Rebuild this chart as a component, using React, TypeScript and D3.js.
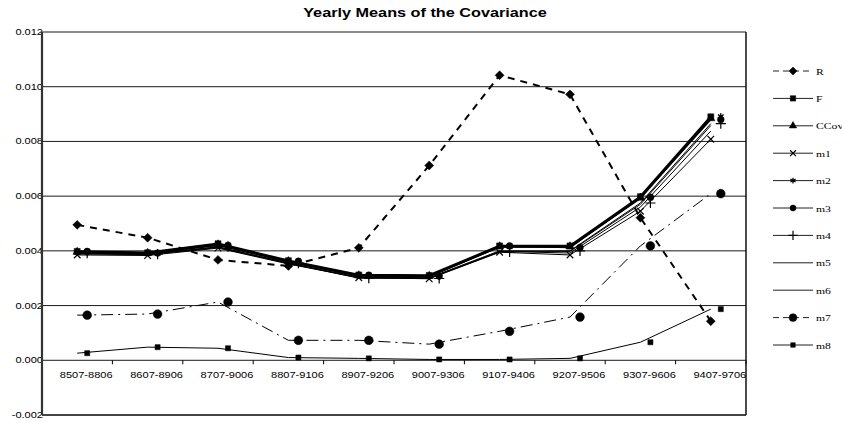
import React from "react";
import * as d3 from "d3";

const categories = ["8507-8806", "8607-8906", "8707-9006", "8807-9106", "8907-9206", "9007-9306", "9107-9406", "9207-9506", "9307-9606", "9407-9706"];
const yTicks = [0.012, 0.01, 0.008, 0.006, 0.004, 0.002, 0.0, -0.002];
const yTickLabels = ["0.012", "0.010", "0.008", "0.006", "0.004", "0.002", "0.000", "-0.002"];

const R = [0.00495, 0.00448, 0.00367, 0.00345, 0.00411, 0.00712, 0.01042, 0.00972, 0.00521, 0.00143];
const F = [0.00398, 0.00393, 0.00426, 0.00364, 0.00312, 0.0031, 0.00418, 0.00418, 0.00598, 0.0089];
const CCov = [0.00396, 0.00392, 0.00423, 0.00362, 0.0031, 0.00308, 0.00416, 0.00416, 0.00594, 0.00884];
const m1 = [0.00385, 0.00383, 0.0041, 0.00352, 0.00302, 0.00298, 0.00395, 0.00385, 0.00545, 0.00808];
const m2 = [0.00395, 0.0039, 0.00422, 0.0036, 0.00308, 0.00306, 0.00414, 0.00414, 0.00592, 0.00892];
const m3 = [0.00398, 0.00392, 0.0042, 0.00362, 0.00311, 0.00308, 0.00418, 0.00412, 0.00596, 0.0088];
const m4 = [0.00392, 0.00388, 0.00415, 0.00355, 0.003, 0.00299, 0.00396, 0.004, 0.00575, 0.00865];
const m5 = [0.0039, 0.00387, 0.00414, 0.00356, 0.00304, 0.00302, 0.004, 0.00398, 0.0057, 0.00858];
const m6 = [0.00389, 0.00386, 0.00412, 0.00354, 0.00303, 0.003, 0.00398, 0.00392, 0.0056, 0.00838];
const m7 = [0.00165, 0.00169, 0.00213, 0.00073, 0.00073, 0.00059, 0.00106, 0.00158, 0.00418, 0.00609];
const m8 = [0.00026, 0.00048, 0.00044, 0.0001, 0.00007, 0.00003, 0.00003, 0.00007, 0.00066, 0.00187];

const seriesNames = ["R", "F", "CCov", "m1", "m2", "m3", "m4", "m5", "m6", "m7", "m8"];
const seriesValues = [R, F, CCov, m1, m2, m3, m4, m5, m6, m7, m8];

const squareDiamond = {
  draw(ctx: any, size: number) {
    const r = Math.sqrt(size / 2);
    ctx.moveTo(0, -r);
    ctx.lineTo(r, 0);
    ctx.lineTo(0, r);
    ctx.lineTo(-r, 0);
    ctx.closePath();
  },
};

type Style = { sw: number; dash?: string; symbol?: any; size: number; fill: boolean; offset: number };
const styles: Record<string, Style> = {
  R: { sw: 2, dash: "7,6", symbol: squareDiamond, size: 40, fill: true, offset: 0 },
  F: { sw: 2.5, symbol: d3.symbolSquare, size: 36, fill: true, offset: 0 },
  CCov: { sw: 2, symbol: d3.symbolTriangle, size: 30, fill: true, offset: 0 },
  m1: { sw: 1, symbol: d3.symbolTimes, size: 30, fill: false, offset: 0 },
  m2: { sw: 1.5, symbol: d3.symbolAsterisk, size: 30, fill: false, offset: 10 },
  m3: { sw: 1.5, symbol: d3.symbolCircle, size: 36, fill: true, offset: 10 },
  m4: { sw: 1, symbol: d3.symbolPlus, size: 36, fill: false, offset: 10 },
  m5: { sw: 1, size: 0, fill: false, offset: 0 },
  m6: { sw: 1, size: 0, fill: false, offset: 0 },
  m7: { sw: 1, dash: "12,5,2,5", symbol: d3.symbolCircle, size: 60, fill: true, offset: 10 },
  m8: { sw: 1, symbol: d3.symbolSquare, size: 26, fill: true, offset: 10 },
};

const W = 842;
const H = 423;
const left = 42;
const right = 746;
const top = 32;
const bottom = 415;

export default function App() {
  const x = d3.scaleBand<string>().domain(categories).range([left, right]).padding(0);
  const y = d3.scaleLinear().domain([-0.002, 0.012]).range([bottom, top]);
  const cx = (i: number) => (x(categories[i]) as number) + x.bandwidth() / 2;
  const line = d3
    .line<number>()
    .x((_, i) => cx(i))
    .y((d) => y(d));

  const legendX0 = 773;
  const legendX1 = 813;
  const legendY0 = 71;
  const legendStep = 27.4;

  const marker = (name: string, px: number, py: number, key: string, scale = 1) => {
    const st = styles[name];
    if (!st.symbol) return null;
    const p = d3.symbol().type(st.symbol).size(st.size * scale)() as string;
    return (
      <path
        key={key}
        d={p}
        transform={`translate(${px},${py})`}
        fill={st.fill ? "#000" : "none"}
        stroke="#000"
        strokeWidth={st.fill ? 0.5 : 1.2}
      />
    );
  };

  return (
    <div style={{ position: "absolute", left: 0, top: 0 }}>
      <svg width={W} height={H} style={{ display: "block", background: "#fff" }}>
        <rect x={0} y={0} width={W} height={H} fill="#fff" />
        <text
          transform={`translate(425,17) scale(1.3,1)`}
          textAnchor="middle"
          fontFamily="Liberation Sans, Arial, sans-serif"
          fontWeight="bold"
          fontSize={12.5}
          fill="#000"
        >
          Yearly Means of the Covariance
        </text>

        {yTicks.map((t, i) => (
          <text
            key={"yl" + i}
            transform={`translate(43,${y(t) + 3}) scale(1.3,1)`}
            textAnchor="end"
            fontFamily="Liberation Sans, Arial, sans-serif"
            fontSize={8.5}
            fill="#000"
          >
            {yTickLabels[i]}
          </text>
        ))}

        {yTicks.map((t, i) => (
          <line
            key={"g" + i}
            x1={left}
            x2={right}
            y1={y(t)}
            y2={y(t)}
            stroke={t === -0.002 ? "#444" : "#1a1a1a"}
            strokeWidth={t === -0.002 ? 2 : 1}
          />
        ))}

        {categories.map((c, i) => (
          <line
            key={"xt" + i}
            x1={(x(c) as number) + x.bandwidth()}
            x2={(x(c) as number) + x.bandwidth()}
            y1={y(0)}
            y2={y(0) + 4}
            stroke="#000"
            strokeWidth={1}
          />
        ))}
        {categories.map((c, i) => (
          <text
            key={"xl" + i}
            transform={`translate(${cx(i) + 9},378) scale(1.3,1)`}
            textAnchor="middle"
            fontFamily="Liberation Sans, Arial, sans-serif"
            fontSize={8.5}
            fill="#000"
          >
            {c}
          </text>
        ))}

        <line x1={left} x2={left} y1={top} y2={bottom} stroke="#333" strokeWidth={2.2} />
        <line x1={right} x2={right} y1={top} y2={bottom} stroke="#111" strokeWidth={1.5} />

        {seriesNames.map((n, si) => {
          const st = styles[n];
          return (
            <path
              key={"l" + n}
              d={line(seriesValues[si]) as string}
              fill="none"
              stroke="#000"
              strokeWidth={st.sw}
              strokeDasharray={st.dash}
              strokeLinejoin="round"
            />
          );
        })}

        {seriesNames.map((n, si) =>
          seriesValues[si].map((v, i) => marker(n, cx(i) + styles[n].offset, y(v), "mk" + n + i))
        )}

        {seriesNames.map((n, i) => {
          const st = styles[n];
          const ly = legendY0 + i * legendStep;
          return (
            <g key={"lg" + n}>
              <line
                x1={legendX0}
                x2={legendX1}
                y1={ly}
                y2={ly}
                stroke="#222"
                strokeWidth={1}
                strokeDasharray={st.dash ? "6,4" : undefined}
              />
              {marker(n, (legendX0 + legendX1) / 2, ly, "lgm" + n, 0.8)}
              <text
                transform={`translate(816,${ly + 3.5}) scale(1.3,1)`}
                fontFamily="Liberation Serif, Times New Roman, serif"
                fontSize={9}
                fill="#000"
              >
                {n}
              </text>
            </g>
          );
        })}
      </svg>
    </div>
  );
}
